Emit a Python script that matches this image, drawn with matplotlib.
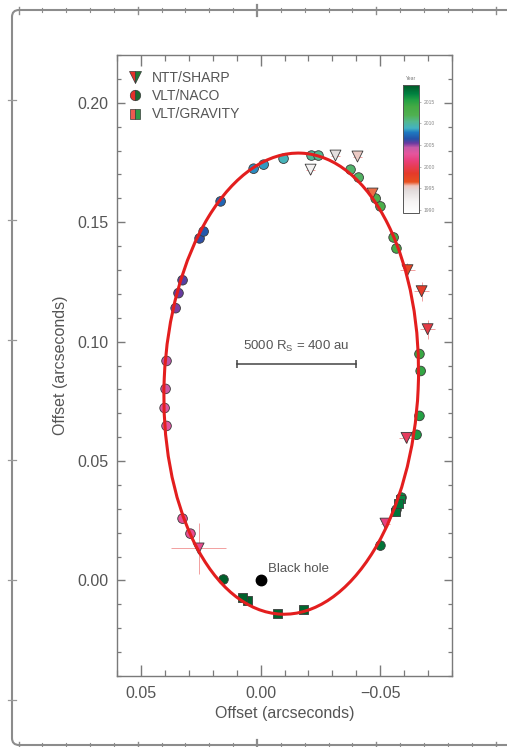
import numpy as np
import matplotlib
matplotlib.use("Agg")
import matplotlib.pyplot as plt
import matplotlib as mpl
from matplotlib.patches import Ellipse, FancyBboxPatch
from matplotlib.colors import LinearSegmentedColormap, Normalize
from matplotlib.lines import Line2D
from matplotlib.transforms import IdentityTransform
import matplotlib.ticker as mticker

plt.rcParams['font.family'] = ['Liberation Sans', 'DejaVu Sans']
plt.rcParams['mathtext.fontset'] = 'custom'
plt.rcParams['mathtext.rm'] = 'Liberation Sans'
plt.rcParams['mathtext.it'] = 'Liberation Sans:italic'

# ---------------- data ----------------
# NTT/SHARP (triangles)
sharp_year = [1992.2, 1994.3, 1995.4, 1996.3, 1997.5, 1998.4, 1999.5, 2000.5, 2001.5, 2002.3]
sharp_x = [-0.0209, -0.0313, -0.0405, -0.0468, -0.0614, -0.0673, -0.0698, -0.0610, -0.0522, 0.0259]
sharp_y = [0.1720, 0.1779, 0.1775, 0.1620, 0.1299, 0.1211, 0.1052, 0.0597, 0.0238, 0.0134]
sharp_xerr = [0.002, 0.002, 0.002, 0.002, 0.003, 0.003, 0.003, 0.003, 0.002, 0.0115]
sharp_yerr = [0.002, 0.002, 0.002, 0.002, 0.003, 0.004, 0.004, 0.002, 0.002, 0.0105]

# VLT/NACO (circles)
naco_year = [2002.5, 2002.7, 2003.4, 2003.6, 2004.3, 2004.6, 2005.3, 2005.5, 2005.8,
             2006.4, 2006.7, 2007.3, 2008.3, 2008.6, 2009.3, 2010.3, 2010.5, 2011.3,
             2011.6, 2012.3, 2012.6, 2013.3, 2013.6, 2014.4, 2014.7, 2015.4, 2015.7,
             2016.4, 2016.7, 2017.6, 2018.6]
naco_x = [0.0293, 0.0326, 0.0393, 0.0401, 0.0397, 0.0393, 0.0355, 0.0343, 0.0326,
          0.0255, 0.0238, 0.0167, 0.0029, -0.0013, -0.0096, -0.0213, -0.0242, -0.0376,
          -0.0410, -0.0481, -0.0501, -0.0556, -0.0568, -0.0664, -0.0669, -0.0664, -0.0652,
          -0.0589, -0.0568, -0.0501, 0.0155]
naco_y = [0.0196, 0.0259, 0.0647, 0.0722, 0.0802, 0.0919, 0.1140, 0.1203, 0.1257,
          0.1432, 0.1461, 0.1587, 0.1724, 0.1741, 0.1766, 0.1779, 0.1779, 0.1720,
          0.1687, 0.1599, 0.1566, 0.1436, 0.1390, 0.0948, 0.0877, 0.0689, 0.0610,
          0.0347, 0.0296, 0.0146, 0.0004]

# VLT/GRAVITY (squares)
grav_year = [2016.6, 2017.3, 2017.5, 2018.3, 2018.4, 2018.5, 2018.55]
grav_x = [-0.0585, -0.0577, -0.0564, -0.0180, -0.0071, 0.0054, 0.0075]
grav_y = [0.0342, 0.0322, 0.0288, -0.0121, -0.0138, -0.0084, -0.0071]

# orbit (projected ellipse)
orbit_center = (-0.0128, 0.0824)
orbit_width = 0.1062
orbit_height = 0.1932
orbit_angle = 2.5

# colour scale (year -> colour)
cbar_years = [1989.3, 1992.0, 1994.5, 1995.6, 1996.5, 1998.5, 2000.0, 2001.5, 2003.0,
              2004.5, 2005.5, 2006.5, 2008.0, 2009.0, 2010.5, 2012.0, 2014.0, 2015.5,
              2017.0, 2018.9]
cbar_colors = ['#ffffff', '#f6f4f4', '#e2dcdc', '#efc4bc', '#e8501e', '#e53a2a', '#e63c52',
               '#e8407c', '#e6559c', '#c65aa8', '#6a3aa0', '#2452a8', '#1e78c0', '#43b2c2',
               '#52b890', '#50b050', '#44aa44', '#22a044', '#008040', '#005a28']
cbar_ticks = [1990, 1995, 2000, 2005, 2010, 2015]

xticks_major = [0.05, 0.00, -0.05]
yticks_major = [0.00, 0.05, 0.10, 0.15, 0.20]

# ---------------- figure ----------------
W, H = 507, 747
fig = plt.figure(figsize=(W / 100, H / 100), dpi=100)

ax = fig.add_axes([117 / W, 1 - 676 / H, 335 / W, 621 / H])
ax.set_xlim(0.06, -0.08)
ax.set_ylim(-0.04, 0.22)

txt = '#555555'
spc = '#7a7a7a'

vmin, vmax = cbar_years[0], cbar_years[-1]
pos = [(y - vmin) / (vmax - vmin) for y in cbar_years]
cmap = LinearSegmentedColormap.from_list('years', list(zip(pos, cbar_colors)))
norm = Normalize(vmin=vmin, vmax=vmax)

# error bars of NTT/SHARP
ax.errorbar(sharp_x, sharp_y, xerr=sharp_xerr, yerr=sharp_yerr, fmt='none',
            ecolor='#f2a0a0', elinewidth=0.7, capsize=0, zorder=2)

ax.scatter(naco_x, naco_y, c=naco_year, cmap=cmap, norm=norm, marker='o', s=48,
           edgecolors='#3a3a3a', linewidths=0.6, zorder=3)
ax.scatter(grav_x, grav_y, c=grav_year, cmap=cmap, norm=norm, marker='s', s=36,
           edgecolors='#3a3a3a', linewidths=0.6, zorder=3)
ax.scatter(sharp_x, sharp_y, c=sharp_year, cmap=cmap, norm=norm, marker='v', s=62,
           edgecolors='#3a3a3a', linewidths=0.6, zorder=3)

orbit = Ellipse(orbit_center, orbit_width, orbit_height, angle=orbit_angle,
                fill=False, edgecolor='#e31e1e', linewidth=2.2, zorder=4)
ax.add_patch(orbit)

# black hole
ax.plot([0.0], [0.0], 'o', color='black', markersize=7.5, zorder=5)
ax.text(-0.0030, 0.0048, 'Black hole', fontsize=9.5, color=txt, ha='left', va='center')

# scale bar
bar_x = [0.010, -0.040]
bar_y = 0.0906
ax.plot(bar_x, [bar_y, bar_y], color='#444444', lw=1.1, marker='|', markersize=6,
        markeredgewidth=1.1, zorder=3)
ax.text(np.mean(bar_x), bar_y + 0.0042, r'5000 R$_\mathregular{S}$ = 400 au', fontsize=9.5,
        color=txt, ha='center', va='bottom')

# ticks / spines
for s in ax.spines.values():
    s.set_color(spc)
    s.set_linewidth(1.0)

fmt = mticker.FuncFormatter(lambda v, p: ('%.2f' % (0.0 if abs(v) < 1e-9 else v)).replace('-', '\u2212'))
ax.xaxis.set_major_locator(mticker.FixedLocator(xticks_major))
ax.yaxis.set_major_locator(mticker.FixedLocator(yticks_major))
ax.xaxis.set_minor_locator(mticker.MultipleLocator(0.01))
ax.yaxis.set_minor_locator(mticker.MultipleLocator(0.01))
ax.xaxis.set_major_formatter(fmt)
ax.yaxis.set_major_formatter(fmt)
ax.tick_params(which='both', direction='in', top=True, right=True, colors=spc,
               labelcolor=txt, labelsize=11.5)
ax.tick_params(axis='x', which='major', length=8, width=1.0, pad=7)
ax.tick_params(axis='x', which='minor', length=4, width=0.9)
ax.tick_params(axis='y', which='major', length=6, width=1.0, pad=6)
ax.tick_params(axis='y', which='minor', length=3, width=0.9)

ax.set_xlabel('Offset (arcseconds)', fontsize=11.5, color=txt, labelpad=4)
ax.set_ylabel('Offset (arcseconds)', fontsize=11.5, color=txt, labelpad=7)

# legend
handles = [
    Line2D([], [], ls='none', marker='v', markersize=8.5, fillstyle='left',
           markerfacecolor='#e3302a', markerfacecoloralt='#1e7a36',
           markeredgecolor='#3a3a3a', markeredgewidth=0.5),
    Line2D([], [], ls='none', marker='o', markersize=7.5, fillstyle='left',
           markerfacecolor='#e3302a', markerfacecoloralt='#1a6a30',
           markeredgecolor='#3a3a3a', markeredgewidth=0.5),
    Line2D([], [], ls='none', marker='s', markersize=7, fillstyle='left',
           markerfacecolor='#ec5a50', markerfacecoloralt='#2f9a48',
           markeredgecolor='#3a3a3a', markeredgewidth=0.5),
]
leg = ax.legend(handles, ['NTT/SHARP', 'VLT/NACO', 'VLT/GRAVITY'], loc='upper left',
                bbox_to_anchor=(0.033, 0.974), borderaxespad=0, borderpad=0,
                frameon=False, fontsize=10, handlelength=1.0, handletextpad=0.7,
                labelspacing=0.3, labelcolor=txt)

# colour bar
cax = fig.add_axes([403 / W, 1 - 213 / H, 16 / W, 128 / H])
cb = mpl.colorbar.ColorbarBase(cax, cmap=cmap, norm=norm, orientation='vertical')
cb.set_ticks(cbar_ticks)
cb.ax.tick_params(labelsize=3.6, colors='#888888', length=1.5, width=0.4, pad=2)
cb.outline.set_edgecolor('#555555')
cb.outline.set_linewidth(0.7)
cax.text(0.5, 1.03, 'Year', transform=cax.transAxes, fontsize=3.6, color='#777777',
         ha='center', va='bottom')

# outer frame (page border with ruler ticks), in pixel coordinates
ident = IdentityTransform()
frame = FancyBboxPatch((12, 2), 540, 735, boxstyle='round,pad=0,rounding_size=7',
                       fill=False, edgecolor='#8c8c8c', linewidth=1.5, transform=ident)
fig.patches.append(frame)
step = 23.85
for k in range(-11, 11):
    xp = 257 + k * step
    if xp < 14 or xp > 506:
        continue
    if k == 0:
        hl, lw = 5.5, 1.6
    elif k % 5 == 0:
        hl, lw = 3.5, 1.0
    else:
        hl, lw = 2.2, 0.8
    for yc in (737, 2):
        fig.lines.append(Line2D([xp, xp], [yc - hl, yc + hl], color='#8c8c8c',
                                lw=lw, transform=ident))
for k in range(-1, 6):
    yp = H - (580 - k * 120)
    if yp < 10 or yp > 735:
        continue
    fig.lines.append(Line2D([12 - 4, 12 + 4], [yp, yp], color='#9a9a9a', lw=0.9,
                            transform=ident))

fig.savefig('out.png', dpi=100)
